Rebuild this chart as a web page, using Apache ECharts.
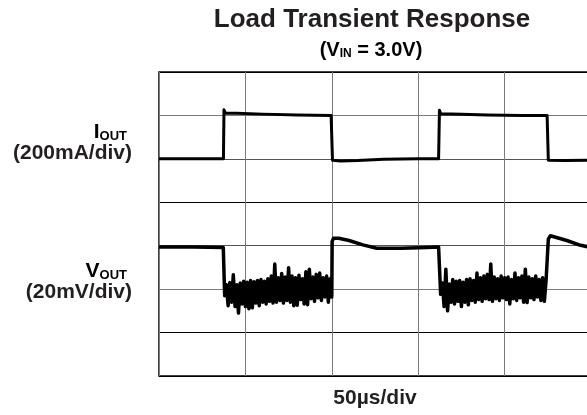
<!DOCTYPE html>
<html lang="en">
<head>
    <meta charset="UTF-8">
    <title>Load Transient Response</title>
    <style>
        html, body {
            margin: 0;
            padding: 0;
            background-color: #ffffff;
        }

        #chart {
            width: 587px;
            height: 415px;
        }
    </style>
</head>
<body>
<div id="chart"></div>
<script src="https://cdn.jsdelivr.net/npm/echarts@6/dist/echarts.min.js"></script>
<script>
    // x in microseconds (50us/div), y in scope divisions (0 = bottom line, 7 = top line)
    var xTicks = [0, 50, 100, 150, 200, 250];

    /* I_OUT trace */
    var ioutT = [0, 37.3, 37.6, 38.5, 45, 60, 80, 99.6, 100.4, 105, 115, 130, 150, 161.8, 162.3, 163, 175, 190, 210, 224.6, 225.3, 235, 250];
    var ioutV = [5.0, 5.0, 6.13, 6.05, 6.05, 6.03, 6.01, 6.0, 4.97, 4.95, 4.96, 4.99, 5.0, 5.0, 6.12, 6.04, 6.03, 6.01, 6.0, 6.0, 4.97, 4.96, 4.97];

    /* V_OUT trace: steady parts */
    var voutPreT = [0, 20, 37.2];
    var voutPreV = [2.97, 2.97, 2.96];
    var voutRec1T = [100.2, 101, 104, 110, 118, 126, 140, 155, 161.8];
    var voutRec1V = [3.1, 3.17, 3.17, 3.12, 3.02, 2.94, 2.94, 2.96, 2.97];
    var voutRec2T = [225.3, 226.5, 229, 236, 244, 250];
    var voutRec2V = [3.15, 3.23, 3.2, 3.12, 3.01, 2.96];

    /* V_OUT ringing while loaded, one sample per us */
    var burst1Start = 38;
    var burst1 = [
        1.85, 2.10, 1.62, 2.15, 1.70, 2.33, 1.60, 2.10, 1.45, 2.14,
        1.66, 2.18, 1.60, 2.16, 1.55, 2.20, 1.57, 2.17, 1.68, 2.20,
        1.62, 2.22, 1.70, 2.18, 1.66, 2.24, 1.72, 2.30, 1.68, 2.58,
        1.70, 2.26, 1.74, 2.36, 1.68, 2.28, 1.74, 2.49, 1.70, 2.30,
        1.62, 2.26, 1.63, 2.32, 1.76, 2.24, 1.66, 2.40, 1.64, 2.46,
        1.78, 2.28, 1.72, 2.34, 1.80, 2.37, 1.74, 2.26, 1.82, 2.30,
        1.70, 2.24, 1.82
    ];
    var burst2Start = 163;
    var burst2 = [
        1.88, 2.14, 1.60, 2.46, 1.50, 2.12, 1.70, 2.22, 1.66, 2.18,
        1.72, 2.20, 1.60, 2.16, 1.70, 2.22, 1.64, 2.24, 1.74, 2.20,
        1.70, 2.37, 1.76, 2.26, 1.72, 2.30, 1.78, 2.34, 1.76, 2.58,
        1.72, 2.28, 1.78, 2.24, 1.74, 2.30, 1.80, 2.26, 1.76, 2.28,
        1.66, 2.22, 1.78, 2.37, 1.74, 2.26, 1.80, 2.30, 1.70, 2.46,
        1.69, 2.28, 1.80, 2.24, 1.76, 2.30, 1.82, 2.22, 1.74, 2.26,
        1.72, 2.20
    ];

    function pairs(ts, vs) {
        var out = [];
        for (var i = 0; i < ts.length; i++) {
            out.push([ts[i], vs[i]]);
        }
        return out;
    }

    function burstPairs(start, vs) {
        var out = [];
        for (var i = 0; i < vs.length; i++) {
            out.push([start + i, vs[i]]);
        }
        return out;
    }

    var ioutData = pairs(ioutT, ioutV);
    var voutData = []
        .concat(pairs(voutPreT, voutPreV))
        .concat(burstPairs(burst1Start, burst1))
        .concat(pairs(voutRec1T, voutRec1V))
        .concat(burstPairs(burst2Start, burst2))
        .concat(pairs(voutRec2T, voutRec2V));

    var font = 'Liberation Sans, Arial, Helvetica, sans-serif';
    var ink = '#231f20';

    function subLabel(main, sub, size, subSize) {
        return {
            text: '{a|' + main + '}{s|' + sub + '}',
            rich: {
                a: {fontSize: size, fontWeight: 'bold', fontFamily: font, color: ink, lineHeight: size + 2, verticalAlign: 'bottom'},
                s: {fontSize: subSize, fontWeight: 'bold', fontFamily: font, color: ink, lineHeight: subSize + 6, verticalAlign: 'bottom'}
            }
        };
    }

    var chart = echarts.init(document.getElementById('chart'), null, {renderer: 'canvas'});
    var option = {
        backgroundColor: '#ffffff',
        animation: false,
        grid: {
            left: 159,
            top: 72,
            width: 432,
            height: 304,
            outerBoundsMode: 'none',
            containLabel: false,
            show: true,
            borderColor: '#000000',
            borderWidth: 1.5
        },
        xAxis: {
            type: 'value',
            min: xTicks[0],
            max: xTicks[xTicks.length - 1],
            interval: 50,
            name: '50\u00b5s/div',
            nameLocation: 'middle',
            nameGap: 12,
            nameTextStyle: {
                color: ink,
                fontFamily: font,
                fontWeight: 'bold',
                fontSize: 21,
                verticalAlign: 'top'
            },
            axisLine: {show: false},
            axisTick: {show: false},
            axisLabel: {show: false},
            splitLine: {show: true, lineStyle: {color: '#7a7a7a', width: 1}}
        },
        yAxis: {
            type: 'value',
            min: 0,
            max: 7,
            interval: 1,
            axisLine: {show: false},
            axisTick: {show: false},
            axisLabel: {show: false},
            splitLine: {
                show: true,
                lineStyle: {
                    color: ['#000000', '#000000', '#7a7a7a', '#555555', '#000000', '#555555', '#7a7a7a', '#000000'],
                    width: 1
                }
            }
        },
        graphic: [
            {
                type: 'text', x: 372, y: 20,
                style: {
                    text: 'Load Transient Response',
                    fill: ink,
                    font: 'bold 26px ' + font,
                    align: 'center',
                    verticalAlign: 'middle'
                }
            },
            {
                type: 'text', x: 371, y: 49,
                style: Object.assign(subLabel('(V', 'IN', 20, 12), {align: 'center', verticalAlign: 'middle'})
            },
            {
                type: 'text', x: 127, y: 131,
                style: Object.assign(subLabel('I', 'OUT', 21, 13), {align: 'right', verticalAlign: 'middle'})
            },
            {
                type: 'text', x: 132, y: 153,
                style: {
                    text: '(200mA/div)',
                    fill: ink,
                    font: 'bold 21px ' + font,
                    align: 'right',
                    verticalAlign: 'middle'
                }
            },
            {
                type: 'text', x: 127, y: 270,
                style: Object.assign(subLabel('V', 'OUT', 21, 13), {align: 'right', verticalAlign: 'middle'})
            },
            {
                type: 'text', x: 132, y: 292,
                style: {
                    text: '(20mV/div)',
                    fill: ink,
                    font: 'bold 21px ' + font,
                    align: 'right',
                    verticalAlign: 'middle'
                }
            }
        ],
        series: [
            {
                name: 'IOUT',
                type: 'line',
                data: ioutData,
                showSymbol: false,
                lineStyle: {color: '#000000', width: 3, join: 'round'},
                z: 5
            },
            {
                name: 'VOUT',
                type: 'line',
                data: voutData,
                showSymbol: false,
                lineStyle: {color: '#000000', width: 3.5, join: 'round'},
                z: 5
            }
        ]
    };
    // subtitle needs the rest of the text after the subscript
    option.graphic[1].style.text += '{a| = 3.0V)}';
    chart.setOption(option);
</script>
</body>
</html>
